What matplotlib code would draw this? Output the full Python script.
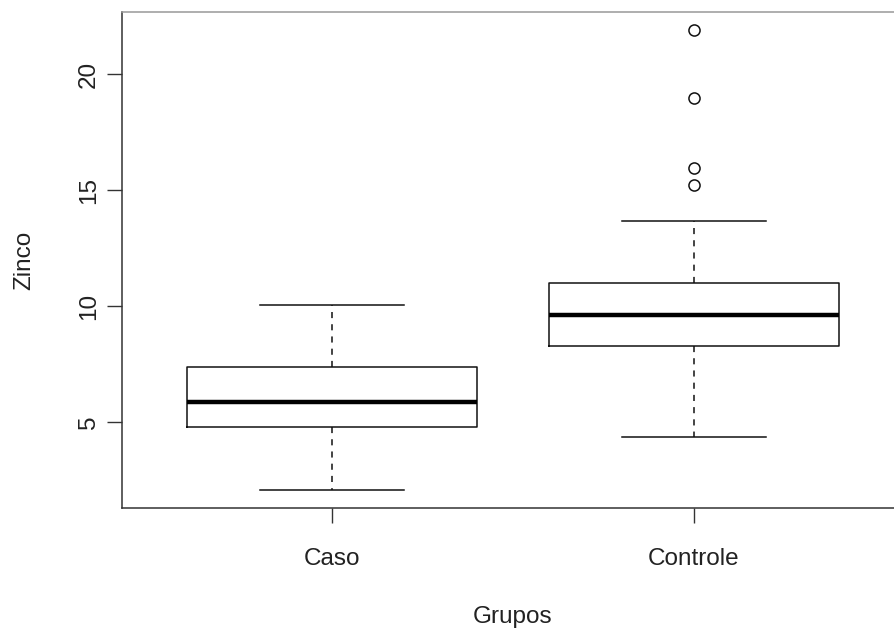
import matplotlib
matplotlib.use("Agg")
import matplotlib.pyplot as plt

categories = ["Caso", "Controle"]
whisker_low = [2.09, 4.35]
q1 = [4.81, 8.30]
median = [5.88, 9.64]
q3 = [7.39, 10.99]
whisker_high = [10.06, 13.69]
outliers = [[], [15.23, 15.95, 18.97, 21.90]]
yticks = [5, 10, 15, 20]

plt.rcParams['font.family'] = ['Liberation Sans', 'DejaVu Sans']

fig = plt.figure(figsize=(8.95, 6.28), dpi=100)
ax = fig.add_axes([122/895, 1 - 508/628, (904 - 122)/895, 496/628])

stats = []
for i, name in enumerate(categories):
    stats.append(dict(label=name, whislo=whisker_low[i], q1=q1[i], med=median[i],
                      q3=q3[i], whishi=whisker_high[i], fliers=outliers[i]))

lc = '#111111'
ax.bxp(stats, positions=[1, 2], widths=0.8, showfliers=True, patch_artist=False,
       boxprops=dict(color=lc, linewidth=1.1),
       medianprops=dict(color='black', linewidth=3.2, solid_capstyle='butt'),
       whiskerprops=dict(color=lc, linewidth=1.1, linestyle=(0, (4, 4))),
       capprops=dict(color=lc, linewidth=1.1),
       capwidths=0.4,
       flierprops=dict(marker='o', markerfacecolor='none', markeredgecolor=lc,
                       markersize=8, markeredgewidth=1.1, linestyle='none'))

all_vals = whisker_low + whisker_high + [v for o in outliers for v in o]
lo, hi = min(all_vals), max(all_vals)
ext = (hi - lo) * 0.04
ax.set_ylim(lo - ext, hi + ext)
ax.set_xlim(0.42, 2.58)

ax.set_yticks(yticks)
ax.set_yticklabels([str(t) for t in yticks], rotation=90, va='center')
ax.set_xticks([1, 2])
ax.set_xticklabels(categories)

ax.tick_params(axis='both', direction='out', length=10.8, width=1.0, color='#333333',
               labelsize=17.5, labelcolor='#222222')
ax.tick_params(axis='y', pad=5)
ax.tick_params(axis='x', pad=18)

for s in ax.spines.values():
    s.set_color('#333333')
    s.set_linewidth(1.1)
ax.spines['top'].set_color('#999999')

ax.set_xlabel("Grupos", fontsize=17.5, color='#222222', labelpad=26)
ax.set_ylabel("Zinco", fontsize=17.5, color='#222222', labelpad=31)

fig.savefig("out.png", dpi=100)
